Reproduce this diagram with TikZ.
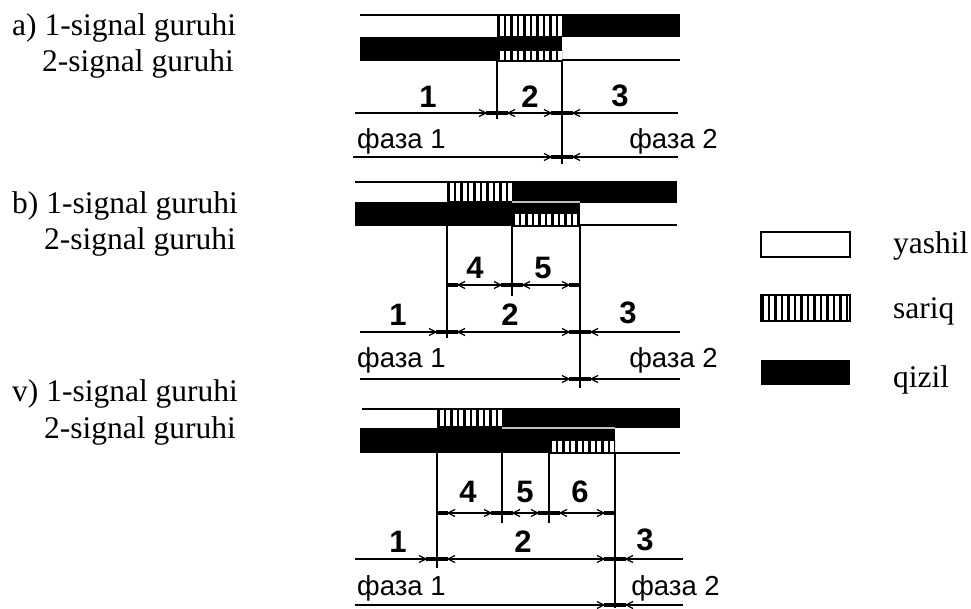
\documentclass[tikz,border=0pt]{standalone}
\usepackage{fontspec}
\setmainfont{Liberation Serif}
\newfontfamily\sansf{Liberation Sans}
\tikzset{
  ln/.style={line width=1.8pt},
  tipbar/.style={line width=4.5pt},
  tipchev/.style={line width=1.3pt},
  digit/.style={font=\sansf\bfseries\fontsize{31}{31}\selectfont, anchor=base, inner sep=0pt},
  phase/.style={font=\sansf\fontsize{27.5}{27.5}\selectfont, inner sep=0pt},
  lbl/.style={font=\fontsize{31.5}{37}\selectfont, anchor=base west, inner sep=0pt},
  thinsep/.style={draw=gray!50, line width=1.2pt},
}
\newcommand{\stripes}[4]{%
  \begin{scope}
    \clip (#1,#2) rectangle (#3,#4);
    \fill[white] (#1,#2) rectangle (#3,#4);
    \foreach \i in {0,...,15}{\fill ({#1+0.3+\i*6.5},#2) rectangle ({#1+2.8+\i*6.5},#4);}
  \end{scope}
  \draw[line width=1.4pt] (#1,#2) -- (#3,#2) (#1,#4) -- (#3,#4);
}
% arrow mark ending at the line x=#1 coming from the left
\newcommand{\tipr}[2]{%
  \draw[tipbar] ({#1-11},#2) -- ({#1-1},#2);
  \draw[tipchev] ({#1-18},{#2-3.5}) -- ({#1-11},#2) -- ({#1-18},{#2+3.5});}
% arrow mark ending at the line x=#1 coming from the right
\newcommand{\tipl}[2]{%
  \draw[tipbar] ({#1+11},#2) -- ({#1+1},#2);
  \draw[tipchev] ({#1+18},{#2-3.5}) -- ({#1+11},#2) -- ({#1+18},{#2+3.5});}
\begin{document}
\begin{tikzpicture}[x=1pt,y=-1pt]
\useasboundingbox (0,0) rectangle (971,608);

% ---------- panel a ----------
\fill (562,15) rectangle (680,37);
\fill (360,37) rectangle (562,61);
\stripes{497}{15}{562}{37}
\stripes{497}{50}{562}{61}
\draw[ln] (360,15) -- (680,15);
\draw[ln] (562,60) -- (680,60);
\draw[ln] (497,61) -- (497,119);
\draw[ln] (562,61) -- (562,164);
\draw[ln] (355,113) -- (678,113);
\tipr{497}{113}\tipl{497}{113}\tipr{562}{113}\tipl{562}{113}
\draw[ln] (353,157) -- (678,157);
\tipr{562}{157}\tipl{562}{157}
\node[digit] (a1) at (428,107) {1};
\node[digit] (a2) at (530,107) {2};
\node[digit] (a3) at (620,106) {3};
\node[phase, anchor=base west] (af1) at (357,148) {фаза 1};
\node[phase, anchor=base east] (af2) at (718,148) {фаза 2};
\node[lbl] (la1) at (12,35) {a) 1-signal guruhi};
\node[lbl] (la2) at (42,71) {2-signal guruhi};

% ---------- panel b ----------
\fill (512,182) rectangle (677,203);
\fill (355,202) rectangle (580,226);
\stripes{447}{182}{512}{202}
\stripes{512}{213}{580}{226}
\draw[thinsep] (512,202) -- (580,202);
\draw[ln] (355,182) -- (677,182);
\draw[ln] (580,225) -- (677,225);
\draw[ln] (447,226) -- (447,338);
\draw[ln] (512,226) -- (512,296);
\draw[ln] (580,226) -- (580,388);
\draw[ln] (447,285) -- (580,285);
\tipl{447}{285}\tipr{512}{285}\tipl{512}{285}\tipr{580}{285}
\node[digit] (b4) at (475,278) {4};
\node[digit] (b5) at (543,278) {5};
\draw[ln] (360,332) -- (680,332);
\tipr{447}{332}\tipl{447}{332}\tipr{580}{332}\tipl{580}{332}
\node[digit] (b1) at (398,325) {1};
\node[digit] (b2) at (510,325) {2};
\node[digit] (b3) at (628,323) {3};
\node[phase, anchor=base west] (bf1) at (357,367) {фаза 1};
\node[phase, anchor=base east] (bf2) at (718,367) {фаза 2};
\draw[ln] (360,379) -- (680,379);
\tipr{580}{379}\tipl{580}{379}
\node[lbl] (lb1) at (12,213) {b) 1-signal guruhi};
\node[lbl] (lb2) at (44,249) {2-signal guruhi};

% ---------- panel v ----------
\fill (502,409) rectangle (680,428);
\fill (360,428) rectangle (615,453);
\stripes{437}{409}{502}{427}
\stripes{549}{440}{615}{453}
\draw[thinsep] (502,428) -- (615,428);
\draw[ln] (362,409) -- (680,409);
\draw[ln] (615,453) -- (680,453);
\draw[ln] (437,453) -- (437,568);
\draw[ln] (502,453) -- (502,523);
\draw[ln] (549,453) -- (549,523);
\draw[ln] (615,453) -- (615,608);
\draw[ln] (437,513) -- (615,513);
\tipl{437}{513}\tipr{502}{513}\tipl{502}{513}\tipr{549}{513}\tipl{549}{513}\tipr{615}{513}
\node[digit] (v4) at (468,502) {4};
\node[digit] (v5) at (525,502) {5};
\node[digit] (v6) at (580,502) {6};
\draw[ln] (355,559) -- (683,559);
\tipr{437}{559}\tipl{437}{559}\tipr{615}{559}\tipl{615}{559}
\node[digit] (v1) at (398,552) {1};
\node[digit] (v2) at (523,552) {2};
\node[digit] (v3) at (645,550) {3};
\node[phase, anchor=base west] (vf1) at (357,595) {фаза 1};
\node[phase, anchor=base east] (vf2) at (720,595) {фаза 2};
\draw[ln] (355,605) -- (683,605);
\tipr{615}{605}\tipl{615}{605}
\node[lbl] (lv1) at (12,401) {v) 1-signal guruhi};
\node[lbl] (lv2) at (44,438) {2-signal guruhi};

% ---------- legend ----------
\draw[line width=2.6pt, fill=white] (761,232) rectangle (850,257);
\stripes{761}{295}{850}{321}
\draw[line width=1.4pt] (761,295) rectangle (850,321);
\fill (761,360) rectangle (850,385);
\node[lbl] (gy) at (893,253) {yashil};
\node[lbl] (gs) at (893,318) {sariq};
\node[lbl] (gq) at (893,387) {qizil};
\end{tikzpicture}
\end{document}
